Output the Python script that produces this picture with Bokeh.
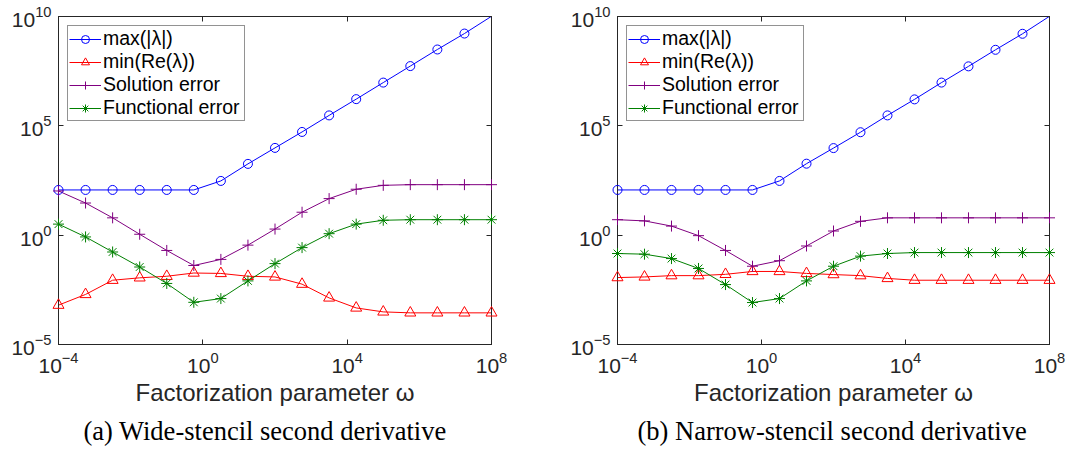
from bokeh.plotting import figure
from bokeh.layouts import row
from bokeh.models import LogAxis, FixedTicker, Range1d, Title, CustomJSTickFormatter
from bokeh.embed import file_html
from bokeh.resources import INLINE

# Factorization parameter values (17 points, 0.75 decades apart)
omega = [1e-4, 5.62e-4, 3.16e-3, 1.78e-2, 1e-1, 5.62e-1, 3.16, 17.8, 1e2,
         5.62e2, 3.16e3, 1.78e4, 1e5, 5.62e5, 3.16e6, 1.78e7, 1e8]

# (a) wide-stencil second derivative
wide_max_abs = [117, 117, 117, 117, 117, 117, 302, 1.82e3, 9.8e3, 5.25e4,
                3.0e5, 1.66e6, 9.5e6, 5.4e7, 3.1e8, 1.66e9, 1.02e10]
wide_min_re = [6.3e-4, 1.95e-3, 8.7e-3, 1.12e-2, 1.32e-2, 1.86e-2, 1.78e-2,
               1.32e-2, 1.23e-2, 5.75e-3, 1.35e-3, 4.7e-4, 3.1e-4, 2.8e-4,
               2.8e-4, 2.8e-4, 2.8e-4]
wide_sol_err = [105, 29.5, 6.2, 1.1, 0.20, 0.041, 0.078, 0.35, 1.9, 11.2,
                47, 126, 190, 204, 204, 204, 204]
wide_fun_err = [3.2, 0.83, 0.17, 0.035, 6.2e-3, 8.5e-4, 1.26e-3, 8.1e-3,
                0.050, 0.27, 1.17, 3.2, 4.8, 5.1, 5.1, 5.1, 5.1]

# (b) narrow-stencil second derivative
narrow_max_abs = [117, 117, 117, 117, 117, 117, 302, 1.86e3, 9.6e3, 5.1e4,
                  3.0e5, 1.62e6, 9.5e6, 5.25e7, 3.0e8, 1.62e9, 1.02e10]
narrow_min_re = [1.15e-2, 1.23e-2, 1.41e-2, 1.41e-2, 1.62e-2, 2.19e-2,
                 2.19e-2, 1.78e-2, 1.58e-2, 1.41e-2, 1.05e-2, 8.7e-3, 8.7e-3,
                 8.7e-3, 8.7e-3, 8.7e-3, 8.7e-3]
narrow_sol_err = [5.1, 4.5, 2.6, 0.95, 0.20, 0.038, 0.068, 0.32, 1.55, 4.3,
                  6.2, 6.2, 6.2, 6.2, 6.2, 6.2, 6.2]
narrow_fun_err = [0.145, 0.135, 0.085, 0.030, 5.5e-3, 8.3e-4, 1.26e-3, 8.1e-3,
                  0.038, 0.11, 0.145, 0.16, 0.16, 0.16, 0.16, 0.16, 0.16]

labels = ["max(|λ|)", "min(Re(λ))", "Solution error", "Functional error"]
x_ticks = [1e-4, 1e0, 1e4, 1e8]
y_ticks = [1e-5, 1e0, 1e5, 1e10]
X_LIM = (1e-4, 1e8)
Y_LIM = (1e-5, 1e10)

AX = "#262626"
SANS = "Liberation Sans"
STYLES = [
    ("#0000ff", "circle", 9),
    ("#ff0000", "triangle", 11),
    ("#800080", "cross", 11),
    ("#008000", "asterisk", 11),
]


def style_ticks(ax):
    ax.axis_line_color = AX
    ax.axis_line_width = 1
    ax.major_tick_line_color = AX
    ax.major_tick_in = 5
    ax.major_tick_out = 0
    ax.minor_tick_line_color = None


def mirror_axis(ticks):
    ax = LogAxis(ticker=FixedTicker(ticks=ticks),
                 formatter=CustomJSTickFormatter(code="return ''"))
    style_ticks(ax)
    ax.major_label_text_font_size = "1px"
    ax.major_label_standoff = 0
    return ax


def panel(series, caption, border_left, border_right, caption_offset):
    p = figure(width=534, height=450, x_axis_type="log", y_axis_type="log",
               x_range=Range1d(*X_LIM), y_range=Range1d(*Y_LIM),
               output_backend="svg", toolbar_location=None,
               min_border_left=border_left, min_border_right=border_right,
               min_border_top=16, min_border_bottom=106,
               background_fill_color="white", border_fill_color="white")
    p.outline_line_color = AX
    p.outline_line_width = 1
    p.grid.visible = False

    p.xaxis.ticker = FixedTicker(ticks=x_ticks)
    p.yaxis.ticker = FixedTicker(ticks=y_ticks)
    for ax in (p.xaxis[0], p.yaxis[0]):
        style_ticks(ax)
        ax.major_label_text_font = SANS
        ax.major_label_text_font_size = "21px"
        ax.major_label_text_color = AX
        ax.major_label_standoff = 7
    p.xaxis.axis_label = "Factorization parameter ω"
    p.xaxis.axis_label_text_font = SANS
    p.xaxis.axis_label_text_font_size = "24px"
    p.xaxis.axis_label_text_font_style = "normal"
    p.xaxis.axis_label_text_color = AX
    p.xaxis.axis_label_standoff = 3

    p.add_layout(mirror_axis(x_ticks), "above")
    p.add_layout(mirror_axis(y_ticks), "right")

    for label, values, (color, marker, size) in zip(labels, series, STYLES):
        p.line(omega, values, line_color=color, line_width=1,
               legend_label=label)
        inside = [(x, y) for x, y in zip(omega, values)
                  if Y_LIM[0] <= y <= Y_LIM[1]]
        r = p.scatter([q[0] for q in inside], [q[1] for q in inside],
                      marker=marker, size=size, line_color=color,
                      fill_color=None, line_width=1, legend_label=label)
        r.level = "overlay"

    lg = p.legend[0]
    lg.location = "top_left"
    lg.margin = 9
    lg.padding = 1
    lg.spacing = 0
    lg.label_standoff = 2
    lg.glyph_width = 32
    lg.glyph_height = 20
    lg.label_height = 19
    lg.label_width = 140
    lg.label_text_font = SANS
    lg.label_text_font_size = "19.5px"
    lg.label_text_color = "black"
    lg.border_line_color = AX
    lg.border_line_width = 1
    lg.background_fill_alpha = 1

    cap = Title(text=caption, align="left", offset=caption_offset,
                text_font="Liberation Serif", text_font_size="26.5px",
                text_font_style="normal", text_color="black", standoff=10)
    p.add_layout(cap, "below")
    return p


left = panel([wide_max_abs, wide_min_re, wide_sol_err, wide_fun_err],
             "(a) Wide-stencil second derivative", 58, 43, 25)
right = panel([narrow_max_abs, narrow_min_re, narrow_sol_err, narrow_fun_err],
              "(b) Narrow-stencil second derivative", 83, 19, 20)

layout = row(left, right, spacing=0)
open("out.html", "w").write(file_html(layout, INLINE))
